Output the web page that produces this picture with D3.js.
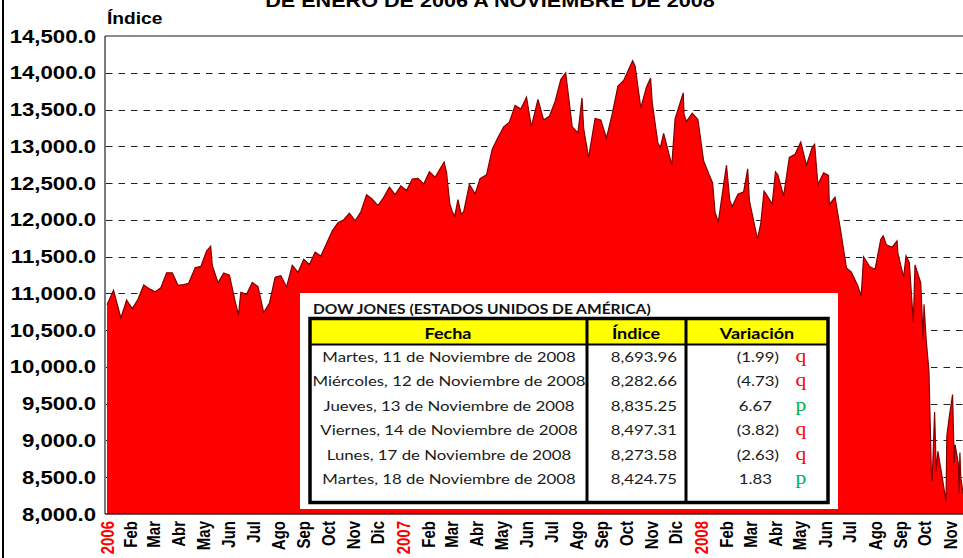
<!DOCTYPE html>
<html>
<head>
<meta charset="utf-8">
<style>
body { margin: 0; background: #fff; }
svg { display: block; font-family: "Liberation Sans", Arial, sans-serif; }
.tabla text { font-family: Lato, "Open Sans", sans-serif; }
</style>
<script src="https://cdn.jsdelivr.net/npm/d3@7/dist/d3.min.js"></script>
</head>
<body>
<svg width="963" height="558"></svg>
<script>

// cierres del Dow Jones (semanales + extremos diarios)
var fechas = [
  "2006-01-03","2006-01-11","2006-01-20","2006-01-27","2006-02-03","2006-02-10","2006-02-17","2006-02-24",
  "2006-03-03","2006-03-10","2006-03-17","2006-03-24","2006-03-31","2006-04-07","2006-04-13","2006-04-21",
  "2006-04-28","2006-05-05","2006-05-10","2006-05-12","2006-05-19","2006-05-26","2006-06-02","2006-06-09",
  "2006-06-13","2006-06-16","2006-06-23","2006-06-30","2006-07-07","2006-07-14","2006-07-21","2006-07-28",
  "2006-08-04","2006-08-11","2006-08-18","2006-08-25","2006-09-01","2006-09-08","2006-09-15","2006-09-22",
  "2006-09-29","2006-10-06","2006-10-13","2006-10-20","2006-10-27","2006-11-03","2006-11-10","2006-11-17",
  "2006-11-24","2006-12-01","2006-12-08","2006-12-15","2006-12-22","2006-12-29",
  "2007-01-05","2007-01-12","2007-01-19","2007-01-26","2007-02-02","2007-02-09","2007-02-20","2007-02-23",
  "2007-02-27","2007-03-02","2007-03-05","2007-03-09","2007-03-13","2007-03-16","2007-03-23","2007-03-30",
  "2007-04-05","2007-04-13","2007-04-20","2007-04-27","2007-05-04","2007-05-11","2007-05-18","2007-05-25",
  "2007-06-01","2007-06-07","2007-06-15","2007-06-22","2007-06-29","2007-07-06","2007-07-13","2007-07-19",
  "2007-07-27","2007-08-03","2007-08-08","2007-08-10","2007-08-16","2007-08-24","2007-08-31","2007-09-07",
  "2007-09-14","2007-09-21","2007-09-28","2007-10-09","2007-10-12","2007-10-19","2007-10-26","2007-10-31",
  "2007-11-02","2007-11-09","2007-11-12","2007-11-16","2007-11-26","2007-11-30","2007-12-10","2007-12-11",
  "2007-12-14","2007-12-21","2007-12-28",
  "2008-01-04","2008-01-11","2008-01-15","2008-01-18","2008-01-22","2008-01-25","2008-02-01","2008-02-05",
  "2008-02-08","2008-02-15","2008-02-22","2008-02-27","2008-02-29","2008-03-07","2008-03-10","2008-03-14",
  "2008-03-18","2008-03-20","2008-03-28","2008-04-01","2008-04-04","2008-04-11","2008-04-18","2008-04-25",
  "2008-05-02","2008-05-09","2008-05-16","2008-05-19","2008-05-23","2008-05-30","2008-06-05","2008-06-06",
  "2008-06-13","2008-06-20","2008-06-27","2008-07-03","2008-07-11","2008-07-15","2008-07-18","2008-07-25",
  "2008-08-01","2008-08-08","2008-08-11","2008-08-15","2008-08-22","2008-08-28","2008-08-29","2008-09-05",
  "2008-09-08","2008-09-12","2008-09-15","2008-09-17","2008-09-18","2008-09-19","2008-09-26","2008-09-29",
  "2008-09-30","2008-10-02","2008-10-03","2008-10-06","2008-10-09","2008-10-10","2008-10-13","2008-10-15",
  "2008-10-17","2008-10-22","2008-10-24","2008-10-27","2008-10-28","2008-10-31","2008-11-04","2008-11-06",
  "2008-11-07","2008-11-11","2008-11-12","2008-11-13","2008-11-14","2008-11-17","2008-11-18"
];
var cierres = [
  10847,11043,10667,10907,10793,10919,11115,11061,
  11022,11076,11279,11280,11109,11120,11137,11347,
  11367,11577,11642,11380,11144,11278,11247,10891,
  10706,11015,10989,11150,11091,10739,10868,11219,
  11240,11088,11381,11284,11464,11393,11560,11508,
  11679,11850,11960,12002,12090,11987,12108,12342,
  12280,12194,12307,12445,12343,12463,
  12398,12556,12565,12487,12653,12580,12786,12647,
  12216,12114,12050,12276,12075,12110,12481,12354,
  12560,12612,12961,13120,13264,13327,13556,13507,
  13668,13266,13639,13360,13408,13611,13907,14000,
  13265,13182,13658,13240,12846,13379,13358,13113,
  13442,13820,13896,14164,14093,13522,13807,13930,
  13595,13042,12987,13176,12743,13372,13727,13432,
  13339,13450,13365,
  12800,12606,12501,12099,11971,12207,12743,12265,
  12182,12348,12381,12694,12266,11893,11740,11951,
  12392,12361,12216,12654,12609,12325,12849,12891,
  13058,12745,12986,13028,12480,12638,12604,12209,
  12307,11843,11346,11288,11100,10963,11496,11370,
  11326,11734,11782,11659,11628,11715,11543,11220,
  11511,11421,10917,10609,11019,11388,11143,10365,
  10851,10483,10325,9955,8579,8451,9387,8578,
  8852,8519,8378,8175,9065,9325,9625,8696,
  8943,8694,8283,8835,8497,8274,8425
];

var ticksY = d3.range(8000, 14501, 500);
var meses = ["2006","Feb","Mar","Abr","May","Jun","Jul","Ago","Sep","Oct","Nov","Dic",
             "2007","Feb","Mar","Abr","May","Jun","Jul","Ago","Sep","Oct","Nov","Dic",
             "2008","Feb","Mar","Abr","May","Jun","Jul","Ago","Sep","Oct","Nov"];

var tablaFecha = ["Martes, 11 de Noviembre de 2008","Miércoles, 12 de Noviembre de 2008",
  "Jueves, 13 de Noviembre de 2008","Viernes, 14 de Noviembre de 2008",
  "Lunes, 17 de Noviembre de 2008","Martes, 18 de Noviembre de 2008"];
var tablaIndice = [8693.96, 8282.66, 8835.25, 8497.31, 8273.58, 8424.75];
var tablaVariacion = [-1.99, -4.73, 6.67, -3.82, -2.63, 1.83];

var SX = 1.2; // el original esta estirado a lo ancho

var svg = d3.select("svg");
var parse = d3.timeParse("%Y-%m-%d");
var datos = fechas.map(function(f, i) { return { d: parse(f), v: cierres[i] }; });

var x = d3.scaleTime()
    .domain([parse("2006-01-03"), parse("2008-01-02")])
    .range([107, 702]);
var y = d3.scaleLinear().domain([8000, 14500]).range([514, 36]);

function texto(g, px, py, s, extra) {
  return g.append("text")
    .attr("transform", "translate(" + px + "," + py + ") scale(" + SX + ",1)" + (extra || ""))
    .text(s);
}

// marco izquierdo
svg.append("line").attr("x1", 3).attr("x2", 3).attr("y1", 0).attr("y2", 558)
    .attr("stroke", "#000").attr("stroke-width", 2);

// rejilla
svg.append("g").selectAll("line")
  .data(ticksY.filter(function(t) { return t > 8000 && t < 14500; }))
  .enter().append("line")
    .attr("x1", 106).attr("x2", 963)
    .attr("y1", function(d) { return Math.round(y(d)) + 0.5; })
    .attr("y2", function(d) { return Math.round(y(d)) + 0.5; })
    .attr("stroke", "#222").attr("stroke-dasharray", "6.5,6");

svg.append("line").attr("x1", 105).attr("x2", 963).attr("y1", y(14500)).attr("y2", y(14500))
    .attr("stroke", "#666").attr("stroke-width", 1.5);

// area
var area = d3.area()
    .x(function(d) { return x(d.d); })
    .y0(y(8000))
    .y1(function(d) { return y(d.v); });
var linea = d3.line()
    .x(function(d) { return x(d.d); })
    .y(function(d) { return y(d.v); });

svg.append("path").datum(datos).attr("d", area).attr("fill", "#ff0000");
svg.append("path").datum(datos).attr("d", linea)
    .attr("fill", "none").attr("stroke", "#800000").attr("stroke-width", 1.2);

// ejes
svg.append("line").attr("x1", 105).attr("x2", 963).attr("y1", y(8000)).attr("y2", y(8000))
    .attr("stroke", "#3a2020").attr("stroke-width", 1.5);
svg.append("line").attr("x1", 105).attr("x2", 105).attr("y1", y(14500)).attr("y2", y(8000))
    .attr("stroke", "#222").attr("stroke-width", 1.2);

var fmt = d3.format(",.1f");
var gy = svg.append("g").attr("font-weight", "bold").attr("font-size", 18.5).attr("text-anchor", "end");
ticksY.forEach(function(t) { texto(gy, 96, y(t) + 6.5, fmt(t)); });

var gx = svg.append("g").attr("font-weight", "bold").attr("font-size", 15).attr("text-anchor", "end");
meses.forEach(function(m, i) {
  var d = d3.timeMonth.offset(parse("2006-01-03"), i);
  if (i > 0) d = d3.timeMonth.floor(d);
  texto(gx, x(d) + 6.5, 521, m, " rotate(-90)")
    .attr("fill", /^\d+$/.test(m) ? "#ff0000" : "#000");
});

texto(svg, 107, 24, "Índice").attr("font-weight", "bold").attr("font-size", 16);
texto(svg, 490, 7, "DE ENERO DE 2006 A NOVIEMBRE DE 2008")
    .attr("font-weight", "bold").attr("font-size", 18).attr("text-anchor", "middle");

// tabla
var tb = svg.append("g").attr("class", "tabla");
tb.append("rect").attr("x", 300).attr("y", 293).attr("width", 538).attr("height", 216).attr("fill", "#fff");
texto(tb, 313, 314, "DOW JONES (ESTADOS UNIDOS DE AMÉRICA)")
    .attr("font-weight", "bold").attr("font-size", 13).attr("fill", "#111");
tb.append("rect").attr("x", 310).attr("y", 319).attr("width", 518).attr("height", 25).attr("fill", "#ffff00");
tb.append("rect").attr("x", 310).attr("y", 318.5).attr("width", 518).attr("height", 184)
    .attr("fill", "none").attr("stroke", "#000").attr("stroke-width", 3.5);
tb.append("line").attr("x1", 310).attr("x2", 828).attr("y1", 344.5).attr("y2", 344.5)
    .attr("stroke", "#000").attr("stroke-width", 2);
[587, 686].forEach(function(cx) {
  tb.append("line").attr("x1", cx).attr("x2", cx).attr("y1", 318).attr("y2", 503)
      .attr("stroke", "#000").attr("stroke-width", 3);
});

var cab = tb.append("g").attr("font-weight", "bold").attr("font-size", 15).attr("text-anchor", "middle");
texto(cab, 448, 339, "Fecha");
texto(cab, 636, 339, "Índice");
texto(cab, 757, 339, "Variación");

var fmtI = d3.format(",.2f"), fmtV = d3.format(".2f");
var filas = tb.append("g").attr("font-size", 14).attr("fill", "#1a1a1a");
tablaFecha.forEach(function(f, i) {
  var by = 362 + i * 24.4;
  texto(filas, 449, by, f).attr("text-anchor", "middle");
  texto(filas, 677, by, fmtI(tablaIndice[i])).attr("text-anchor", "end");
  var v = tablaVariacion[i];
  texto(filas, v < 0 ? 779 : 772, by, v < 0 ? "(" + fmtV(-v) + ")" : fmtV(v)).attr("text-anchor", "end");
  texto(tb, 801, by, v < 0 ? "q" : "p")
      .attr("text-anchor", "middle").attr("font-size", 18)
      .style("font-family", "'Liberation Serif', 'DejaVu Serif', serif")
      .attr("fill", v < 0 ? "#ff0000" : "#00b050");
});

</script>
</body>
</html>
